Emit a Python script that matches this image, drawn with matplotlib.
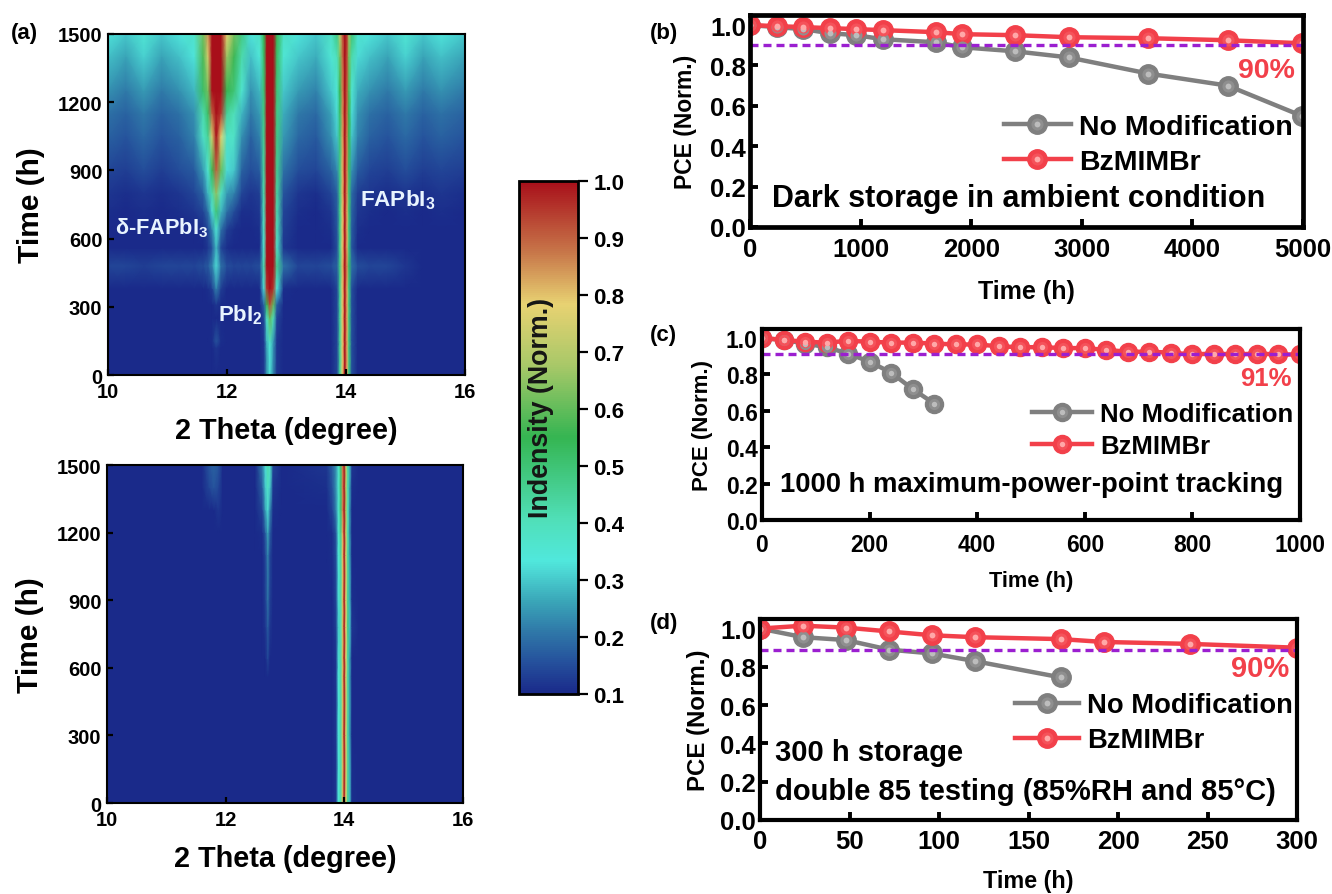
import numpy as np
import matplotlib
matplotlib.use('Agg')
import matplotlib.pyplot as plt
from matplotlib.colors import LinearSegmentedColormap
from matplotlib.cm import ScalarMappable
from matplotlib.colors import Normalize
from matplotlib.lines import Line2D
from matplotlib.legend_handler import HandlerTuple

plt.rcParams['font.family'] = ['Liberation Sans', 'DejaVu Sans']
plt.rcParams['font.weight'] = 'bold'
plt.rcParams['mathtext.fontset'] = 'custom'
plt.rcParams['mathtext.rm'] = 'Liberation Sans:bold'
plt.rcParams['mathtext.default'] = 'rm'

W, H = 1332, 895

# heatmap (a) top, intensity in hundredths
theta_top = [10.0, 10.3, 10.6, 10.9, 11.2,
             11.45, 11.6, 11.68, 11.75, 11.82, 11.9, 12.0, 12.12, 12.25,
             12.4, 12.55,
             12.62, 12.67, 12.72, 12.78, 12.84, 12.95,
             13.2, 13.5, 13.75,
             13.85, 13.9, 13.94, 13.98, 14.02, 14.05, 14.1, 14.2,
             14.4, 14.7, 15.0, 15.3, 15.6, 16.0]
time_top = [0, 120, 150, 250, 310, 380, 480, 560, 640, 720, 800, 900, 1050, 1150, 1250, 1400, 1500]
intensity_top = [
    [10, 10, 10, 10, 10,  10, 10, 10, 10, 10, 10, 10, 10, 10,  10, 10,  12, 24, 32, 22, 12, 10,  10, 10, 10,  14, 45, 78, 100, 82, 48, 15, 10,  10, 10, 10, 10, 10, 10],
    [10, 10, 10, 10, 10,  10, 10, 10, 10, 12, 10, 10, 10, 10,  10, 10,  12, 26, 34, 24, 12, 10,  10, 10, 10,  14, 45, 78, 100, 82, 48, 15, 10,  10, 10, 10, 10, 10, 10],
    [10, 10, 10, 10, 10,  10, 10, 10, 11, 16, 11, 10, 10, 10,  10, 10,  12, 28, 38, 25, 12, 10,  10, 10, 10,  14, 45, 78, 100, 82, 48, 15, 10,  10, 10, 10, 10, 10, 10],
    [10, 10, 10, 10, 10,  10, 10, 10, 10, 10, 10, 10, 10, 10,  10, 10,  14, 38, 60, 40, 14, 10,  10, 10, 10,  14, 45, 78, 100, 82, 48, 15, 10,  10, 10, 10, 10, 10, 10],
    [10, 10, 10, 10, 10,  10, 10, 10, 10, 12, 10, 10, 10, 10,  10, 10,  18, 55, 92, 60, 18, 10,  10, 10, 10,  14, 45, 78, 100, 82, 48, 15, 10,  10, 10, 10, 10, 10, 10],
    [10, 10, 10, 10, 10,  10, 10, 11, 13, 22, 13, 10, 10, 10,  10, 10,  32, 95, 100, 95, 34, 11,  10, 10, 10,  14, 46, 78, 100, 82, 48, 15, 10,  10, 10, 10, 10, 10, 10],
    [14, 14, 13, 14, 14,  14, 15, 17, 22, 32, 20, 15, 14, 14,  14, 15,  42, 100, 100, 100, 46, 20,  14, 14, 15,  18, 48, 80, 100, 85, 52, 20, 15,  14, 14, 12, 10, 10, 10],
    [10, 10, 10, 10, 10,  10, 10, 12, 16, 28, 14, 11, 10, 10,  10, 10,  36, 100, 100, 100, 38, 12,  10, 10, 10,  15, 46, 78, 100, 82, 48, 16, 10,  10, 10, 10, 10, 10, 10],
    [10, 10, 10, 10, 10,  10, 11, 14, 22, 35, 20, 13, 11, 10,  10, 11,  38, 100, 100, 100, 40, 13,  10, 10, 11,  16, 47, 78, 100, 82, 48, 17, 11,  10, 10, 10, 10, 10, 10],
    [11, 10, 11, 10, 11,  12, 14, 20, 32, 50, 28, 20, 15, 11,  11, 12,  40, 100, 100, 100, 42, 14,  11, 10, 12,  17, 47, 78, 100, 82, 50, 18, 12,  11, 10, 11, 10, 11, 10],
    [12, 11, 12, 11, 12,  14, 18, 28, 42, 65, 38, 25, 22, 14,  12, 13,  42, 100, 100, 100, 44, 16,  12, 11, 14,  18, 48, 80, 100, 84, 50, 19, 13,  12, 11, 12, 11, 12, 11],
    [14, 13, 15, 13, 15,  17, 25, 36, 55, 90, 60, 32, 30, 18,  15, 17,  44, 100, 100, 100, 46, 20,  15, 14, 18,  23, 48, 80, 100, 85, 52, 24, 17,  14, 13, 15, 13, 14, 13],
    [18, 16, 19, 16, 18,  22, 38, 45, 75, 100, 78, 38, 38, 24,  18, 22,  46, 100, 100, 100, 48, 25,  19, 17, 24,  30, 50, 82, 100, 86, 54, 30, 22,  18, 16, 19, 16, 18, 16],
    [20, 18, 21, 18, 20,  24, 42, 52, 90, 100, 95, 45, 40, 28,  21, 25,  48, 100, 100, 100, 48, 27,  21, 19, 26,  32, 52, 84, 100, 88, 55, 32, 24,  20, 18, 21, 18, 20, 18],
    [24, 21, 25, 21, 24,  28, 52, 62, 100, 100, 100, 55, 50, 36,  24, 28,  50, 100, 100, 100, 50, 30,  25, 22, 30,  35, 55, 85, 100, 90, 58, 36, 27,  24, 21, 25, 21, 24, 21],
    [29, 26, 31, 26, 29,  33, 58, 74, 100, 100, 100, 66, 56, 42,  29, 34,  52, 100, 100, 100, 52, 35,  30, 27, 35,  40, 62, 88, 100, 92, 62, 42, 32,  29, 26, 31, 26, 29, 26],
    [33, 30, 35, 30, 33,  37, 62, 84, 100, 100, 100, 78, 62, 48,  33, 38,  55, 100, 100, 100, 54, 38,  33, 30, 38,  48, 72, 90, 100, 94, 66, 50, 36,  33, 30, 35, 30, 33, 30],
]

# heatmap (a) bottom
theta_bot = [10.0, 11.6, 11.72, 11.8, 11.88, 11.95, 12.5, 12.62, 12.67, 12.71, 12.75, 12.8, 12.95,
             13.7, 13.8, 13.86, 13.9, 13.94, 13.97, 14.0, 14.03, 14.06, 14.09, 14.13, 14.25, 16.0]
time_bot = [0, 300, 560, 640, 780, 900, 1100, 1200, 1300, 1400, 1500]
intensity_bot = [
    [10, 10, 10, 10, 10, 10, 10, 10, 10, 10, 10, 10, 10,  10, 10, 12, 34, 42, 74, 100, 76, 46, 30, 11, 10, 10],
    [10, 10, 10, 10, 10, 10, 10, 10, 10, 10, 10, 10, 10,  10, 10, 12, 33, 42, 75, 100, 74, 44, 26, 10, 10, 10],
    [10, 10, 10, 10, 10, 10, 10, 10, 10, 10, 10, 10, 10,  10, 10, 12, 33, 42, 76, 100, 74, 44, 26, 10, 10, 10],
    [10, 10, 10, 10, 10, 10, 10, 10, 10, 14, 10, 10, 10,  10, 10, 12, 32, 42, 75, 100, 76, 44, 26, 10, 10, 10],
    [10, 10, 10, 10, 10, 10, 10, 10, 12, 17, 12, 10, 10,  10, 10, 13, 30, 40, 74, 100, 78, 48, 30, 12, 10, 10],
    [10, 10, 10, 10, 10, 10, 10, 10, 13, 20, 13, 10, 10,  10, 10, 14, 32, 42, 75, 100, 76, 46, 28, 11, 10, 10],
    [10, 10, 10, 10, 10, 10, 10, 10, 14, 22, 14, 10, 10,  10, 11, 15, 34, 44, 78, 100, 74, 44, 26, 10, 10, 10],
    [10, 10, 10, 10, 10, 10, 10, 11, 17, 26, 17, 10, 10,  10, 11, 16, 36, 46, 80, 100, 72, 42, 24, 10, 10, 10],
    [10, 10, 10, 10, 12, 10, 10, 14, 26, 32, 22, 11, 10,  10, 14, 22, 36, 50, 85, 100, 68, 40, 24, 10, 10, 10],
    [10, 10, 14, 16, 14, 10, 10, 18, 30, 38, 30, 12, 10,  11, 16, 24, 36, 50, 85, 100, 70, 42, 26, 11, 10, 10],
    [10, 10, 16, 18, 16, 10, 10, 22, 32, 42, 38, 14, 10,  12, 18, 24, 36, 50, 86, 100, 72, 44, 28, 12, 10, 10],
]

# line panels
b_time = [0, 240, 480, 720, 960, 1200, 1680, 1920, 2400, 2880, 3600, 4320, 4990]
b_none = [1.0, 0.99, 0.98, 0.96, 0.95, 0.93, 0.915, 0.89, 0.87, 0.84, 0.76, 0.70, 0.55]
b_bz = [1.0, 0.995, 0.99, 0.985, 0.98, 0.975, 0.965, 0.955, 0.95, 0.94, 0.935, 0.925, 0.91]

c_time_none = [0, 40, 80, 120, 160, 200, 240, 280, 320]
c_none = [1.0, 0.99, 0.97, 0.95, 0.915, 0.87, 0.81, 0.72, 0.64]
c_time_bz = [0, 40, 80, 120, 160, 200, 240, 280, 320, 360, 400, 440, 480, 520, 560, 600, 640, 680, 720, 760, 800, 840, 880, 920, 960, 1000]
c_bz = [1.0, 0.99, 0.98, 0.975, 0.985, 0.98, 0.975, 0.975, 0.97, 0.965, 0.965, 0.955, 0.95, 0.95, 0.945, 0.945,
        0.935, 0.925, 0.925, 0.92, 0.91, 0.915, 0.91, 0.915, 0.91, 0.91]

d_time_none = [0, 24, 48, 72, 96, 120, 168]
d_none = [1.0, 0.955, 0.94, 0.89, 0.87, 0.83, 0.745]
d_time_bz = [0, 24, 48, 72, 96, 120, 168, 192, 240, 300]
d_bz = [1.0, 1.015, 1.005, 0.985, 0.965, 0.955, 0.945, 0.93, 0.92, 0.90]

cb_ticks = [0.1, 0.2, 0.3, 0.4, 0.5, 0.6, 0.7, 0.8, 0.9, 1.0]

GRAY = '#7f7f7f'
GRAY_MID = '#8f8f8f'
GRAY_HI = '#bdbdbd'
RED = '#f2404a'
RED_MID = '#f5525a'
RED_HI = '#ffa8a8'
PURPLE = '#9b1fd0'

stops = [(0.0, '#1a2a8a'), (0.06, '#25509c'), (0.12, '#2f78a8'), (0.18, '#3aa6b8'), (0.24, '#4cd8d4'),
         (0.26, '#50e8dc'), (0.34, '#50dfb8'), (0.5, '#35b552'), (0.64, '#a8c868'), (0.76, '#e8d272'),
         (0.86, '#c8784a'), (1.0, '#a80f1a')]
cmap = LinearSegmentedColormap.from_list('xrd', stops)
norm = Normalize(0.1, 1.0)

fig = plt.figure(figsize=(W / 100, H / 100), dpi=100)


def px_axes(left, top, right, bottom):
    return fig.add_axes([left / W, 1 - bottom / H, (right - left) / W, (bottom - top) / H])


def heat(box, theta, time, table):
    ax = px_axes(*box)
    ax.pcolormesh(theta, time, np.array(table) / 100, shading='gouraud', cmap=cmap, norm=norm, rasterized=True)
    ax.set_xlim(10, 16)
    ax.set_ylim(0, 1500)
    ax.set_xticks([10, 12, 14, 16])
    ax.set_yticks([0, 300, 600, 900, 1200, 1500])
    ax.tick_params(direction='in', width=1.6, length=4, labelsize=14.5, pad=5, top=False, right=False)
    ax.tick_params(axis='y', pad=4)
    for s in ax.spines.values():
        s.set_linewidth(1.5)
    ax.set_xlabel('2 Theta (degree)', fontsize=20.8, fontweight='bold', labelpad=10.5)
    ax.set_ylabel('Time (h)', fontsize=21.5, fontweight='bold', labelpad=9)
    return ax


ax1 = heat((108, 35, 465, 376), theta_top, time_top, intensity_top)
ax2 = heat((107, 466, 463, 804), theta_bot, time_bot, intensity_bot)

ax1.text(10.12, 600, 'δ-FAPbI$_3$', color='#e8f4ff', fontsize=15.7, fontweight='bold', va='bottom')
ax1.text(11.85, 215, 'PbI$_2$', color='#e8f4ff', fontsize=16, fontweight='bold', va='bottom')
ax1.text(14.24, 720, 'FAPbI$_3$', color='#e8f4ff', fontsize=16.2, fontweight='bold', va='bottom')

# colour bar
cax = px_axes(519, 182, 578, 695)
cb = fig.colorbar(ScalarMappable(norm=norm, cmap=cmap), cax=cax)
cb.set_ticks(cb_ticks)
cb.ax.tick_params(direction='out', width=1.6, length=7, labelsize=16, pad=4)
cb.outline.set_linewidth(2)
cax.text(0.37, 0.56, 'Indensity (Norm.)', rotation=90, transform=cax.transAxes, ha='center', va='center',
         fontsize=19.3, fontweight='bold', color='#151515')


def add_line(ax, x, y, col, mid, hi, ms):
    ax.plot(x, y, '-', color=col, lw=3.2, zorder=3)
    ax.plot(x, y, 'o', color=col, ms=ms, mec=col, zorder=3)
    ax.plot(x, y, 'o', color=mid, ms=ms * 0.62, mec='none', zorder=3.1)
    ax.plot(x, y, 'o', color=hi, ms=ms * 0.3, mec='none', zorder=3.2)


def leg_handle(col, mid, hi, ms):
    return (Line2D([], [], color=col, lw=3.2, marker='o', ms=ms, mec=col),
            Line2D([], [], color=mid, ls='none', marker='o', ms=ms * 0.62, mec='none'),
            Line2D([], [], color=hi, ls='none', marker='o', ms=ms * 0.3, mec='none'))


def line_panel(box, x_none, y_none, x_bz, y_bz, xlim, xticks, level, pct, pct_xy, pct_size, note, note_xy, note_size,
               tick_size, xlabel_size, ylabel_size, leg_size, leg_anchor, ms, tick_pad, xlabel_pad, ylabel_pad, spine):
    ax = px_axes(*box)
    add_line(ax, x_none, y_none, GRAY, GRAY_MID, GRAY_HI, ms)
    add_line(ax, x_bz, y_bz, RED, RED_MID, RED_HI, ms)
    ax.axhline(level, color=PURPLE, lw=2.4, dashes=(2.4, 1.5), zorder=4)
    ax.set_xlim(*xlim)
    ax.set_ylim(0, 1.05)
    ax.set_xticks(xticks)
    ax.set_yticks([0, 0.2, 0.4, 0.6, 0.8, 1.0])
    ax.tick_params(direction='in', width=2.8, length=5.5, labelsize=tick_size, top=False, right=False)
    ax.tick_params(axis='x', pad=tick_pad)
    ax.tick_params(axis='y', pad=3)
    for s in ax.spines.values():
        s.set_linewidth(spine)
        s.set_zorder(6)
    ax.set_xlabel('Time (h)', fontsize=xlabel_size, fontweight='bold', labelpad=xlabel_pad)
    ax.set_ylabel('PCE (Norm.)', fontsize=ylabel_size, fontweight='bold', labelpad=ylabel_pad)
    ax.text(pct_xy[0], pct_xy[1], pct, color=RED, fontsize=pct_size, fontweight='bold',
            transform=ax.transAxes, ha='right', va='center')
    ax.text(note_xy[0], note_xy[1], note, fontsize=note_size, fontweight='bold', transform=ax.transAxes,
            ha='left', va='center', linespacing=1.5)
    ax.legend([leg_handle(GRAY, GRAY_MID, GRAY_HI, ms), leg_handle(RED, RED_MID, RED_HI, ms)],
              ['No Modification', 'BzMIMBr'], numpoints=1, frameon=False,
              handler_map={tuple: HandlerTuple(ndivide=1, pad=0)}, loc='upper right', bbox_to_anchor=leg_anchor,
              fontsize=leg_size, handlelength=2.35, handletextpad=0.3, labelspacing=0.33,
              borderpad=0, borderaxespad=0)
    return ax


axb = line_panel((750, 16, 1303, 228), b_time, b_none, b_time, b_bz, (0, 5000), [0, 1000, 2000, 3000, 4000, 5000],
                 0.90, '90%', (0.985, 0.74), 20.5, 'Dark storage in ambient condition', (0.04, 0.135), 22,
                 18.5, 18, 16.5, 20.5, (0.982, 0.535), 14, 7, 13, 9, 3.4)
axc = line_panel((762, 330, 1300, 521), c_time_none, c_none, c_time_bz, c_bz, (0, 1000), [0, 200, 400, 600, 800, 1000],
                 0.91, '91%', (0.985, 0.745), 18.5, '1000 h maximum-power-point tracking', (0.034, 0.19), 19.8,
                 16.5, 15.7, 16, 18.5, (0.987, 0.618), 13, 9, 10.5, 9, 3)
axd = line_panel((760, 620, 1297, 821), d_time_none, d_none, d_time_bz, d_bz, (0, 300), [0, 50, 100, 150, 200, 250, 300],
                 0.89, '90%', (0.985, 0.755), 21, '300 h storage\ndouble 85 testing (85%RH and 85°C)', (0.028, 0.24), 21,
                 18.5, 16.8, 17.3, 19.7, (0.9925, 0.635), 14, 6.5, 11.5, 7, 3)

for lab, x, y in [('(a)', 11, 33), ('(b)', 650, 33), ('(c)', 650, 336), ('(d)', 650, 624)]:
    fig.text(x / W, 1 - y / H, lab, fontsize=16, fontweight='bold', va='center', ha='left')

fig.savefig('out.png', dpi=100)
